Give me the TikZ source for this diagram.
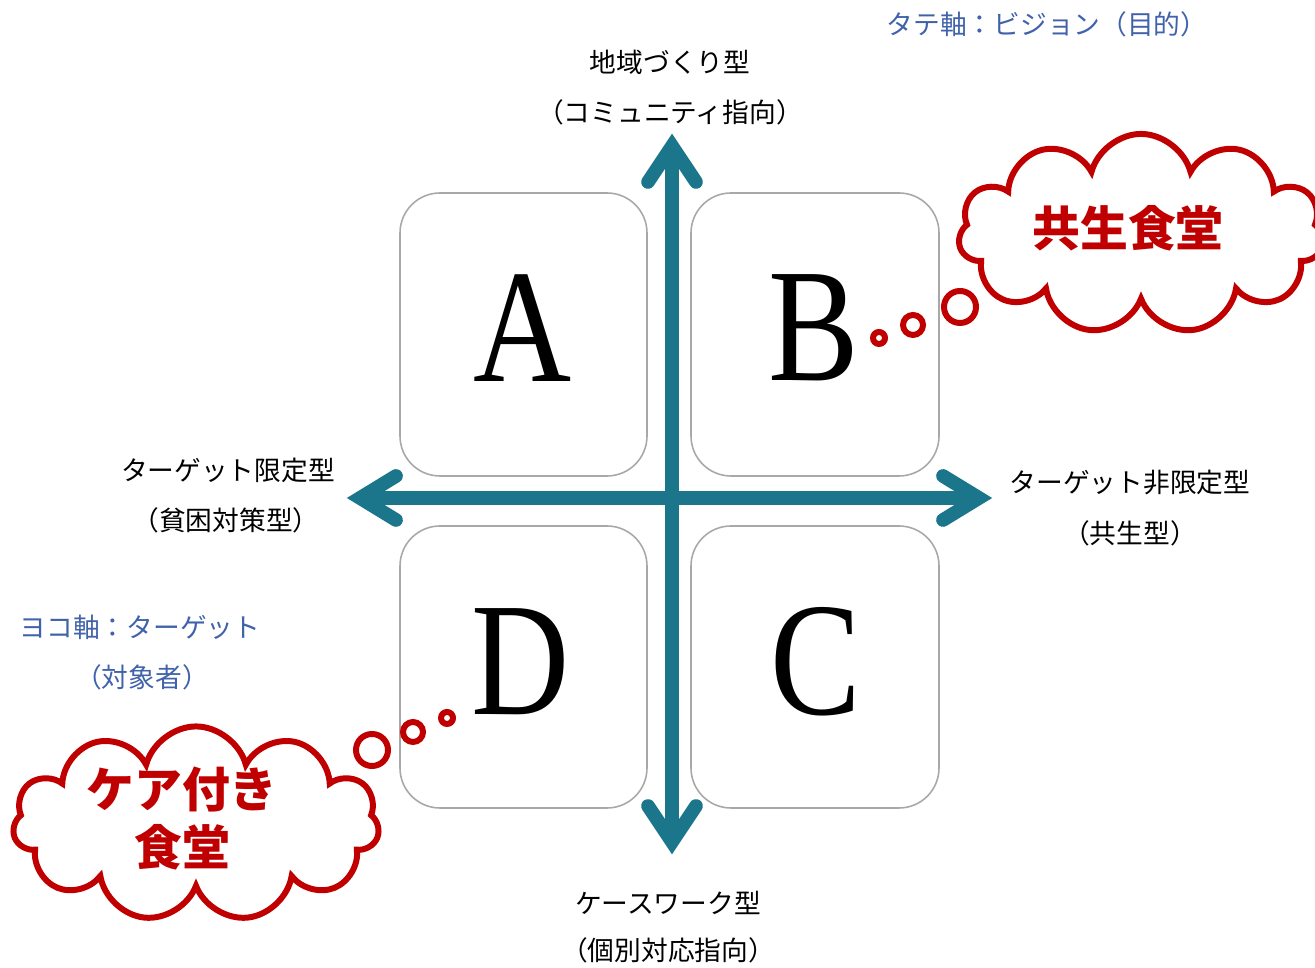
\documentclass[tikz,border=0pt]{standalone}
\usepackage{fontspec}
\newfontfamily\jp{Noto Sans CJK JP}
\newfontfamily\letterfont{Liberation Serif}
\usetikzlibrary{shapes.symbols,calc}
\definecolor{axisteal}{RGB}{27,117,139}
\definecolor{cloudred}{RGB}{192,0,0}
\definecolor{axisblue}{RGB}{64,98,170}
\definecolor{boxgray}{RGB}{168,168,168}
\newcommand{\narrowletter}[1]{\scalebox{0.84}[1]{#1}}
\tikzset{
  quad/.style={draw=boxgray, line width=0.45pt, rounded corners=0.4cm},
  letter/.style={font=\letterfont\fontsize{46}{46}\selectfont, inner sep=0pt},
  axislabel/.style={font=\jp\fontsize{7.6}{9}\selectfont, text=black, inner sep=0pt},
  bluelabel/.style={font=\jp\fontsize{7.6}{9}\selectfont, text=axisblue, inner sep=0pt},
  axisline/.style={draw=axisteal, line width=3.9pt},
  axishead/.style={draw=axisteal, line width=3.9pt, line cap=round, line join=miter},
  shadowline/.style={draw=black!12, line width=3.9pt},
  thought/.style={cloud, cloud puffs=11, cloud ignores aspect, draw=cloudred, line width=1.7pt, fill=white, inner sep=0pt},
  bubble/.style={circle, draw=cloudred, line width=1.7pt, fill=white, inner sep=0pt},
  cloudtext/.style={font=\jp\bfseries\fontsize{13.6}{16.5}\selectfont, text=cloudred, align=center, inner sep=0pt},
}
\begin{document}
\begin{tikzpicture}[x=0.01cm,y=-0.01cm]
\useasboundingbox (0,0) rectangle (1315,968);
% quadrant boxes
\draw[quad] (400,193) rectangle (647,476);
\draw[quad] (691,193) rectangle (939,476);
\draw[quad] (400,526) rectangle (647,808);
\draw[quad] (691,526) rectangle (939,808);
\node[letter] (A) at (523,328) {\narrowletter{A}};
\node[letter] (B) at (814,328) {\narrowletter{B}};
\node[letter] (D) at (521,662) {\narrowletter{D}};
\node[letter] (C) at (816,662) {\narrowletter{C}};
% axes
\coordinate (top) at (672,146);
\coordinate (bot) at (672,842);
\coordinate (lft) at (360,498);
\coordinate (rgt) at (979,498);
\begin{scope}[shift={(4,4)}]
\draw[shadowline] (top) -- (bot);
\draw[shadowline] (lft) -- (rgt);
\end{scope}
\draw[axisline] (top) -- (bot);
\draw[axisline] (lft) -- (rgt);
\draw[axishead] ($(top)+(-24,36)$) -- (top) -- ($(top)+(24,36)$);
\draw[axishead] ($(bot)+(-24,-36)$) -- (bot) -- ($(bot)+(24,-36)$);
\draw[axishead] ($(lft)+(36,-22)$) -- (lft) -- ($(lft)+(36,22)$);
\draw[axishead] ($(rgt)+(-36,-22)$) -- (rgt) -- ($(rgt)+(-36,22)$);
% axis labels
\node[bluelabel] (tatejiku) at (1047,24) {タテ軸：ビジョン（目的）};
\node[axislabel] (topl1) at (670,62) {地域づくり型};
\node[axislabel] (topl2) at (670,112) {（コミュニティ指向）};
\node[axislabel] (lftl1) at (228,470) {ターゲット限定型};
\node[axislabel] (lftl2) at (226,520) {（貧困対策型）};
\node[axislabel] (rgtl1) at (1130,483) {ターゲット非限定型};
\node[axislabel] (rgtl2) at (1130,533) {（共生型）};
\node[bluelabel] (yokojiku1) at (140,627) {ヨコ軸：ターゲット};
\node[bluelabel] (yokojiku2) at (142,677) {（対象者）};
\node[axislabel] (botl1) at (668,903) {ケースワーク型};
\node[axislabel] (botl2) at (668,950) {（個別対応指向）};
% thought clouds
\node[thought, minimum width=3.65cm, minimum height=2.0cm] (cloudB) at (1141,234) {};
\node[cloudtext] (kyosei) at (1128,228) {共生食堂};
\node[bubble, minimum size=0.32cm] (bB1) at (960,307) {};
\node[bubble, minimum size=0.2cm] (bB2) at (913,325) {};
\node[bubble, minimum size=0.12cm] (bB3) at (879,338) {};
\node[thought, minimum width=3.66cm, minimum height=1.95cm] (cloudD) at (196,824) {};
\node[cloudtext] (care) at (182,818) {ケア付き\\食堂};
\node[bubble, minimum size=0.32cm] (bD1) at (372,750) {};
\node[bubble, minimum size=0.2cm] (bD2) at (413,732) {};
\node[bubble, minimum size=0.12cm] (bD3) at (447,718) {};
\end{tikzpicture}
\end{document}
